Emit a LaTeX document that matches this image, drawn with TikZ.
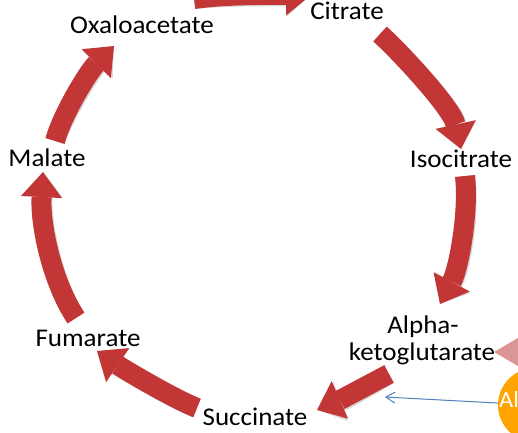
\documentclass[tikz,border=0pt]{standalone}
\usepackage{fontspec}
\setmainfont{Carlito}[FakeStretch=1.06]
\usetikzlibrary{arrows.meta}
\definecolor{arrowred}{RGB}{194,54,54}
\definecolor{shadowgray}{RGB}{215,215,215}
\definecolor{pinktri}{RGB}{217,150,148}
\definecolor{orangec}{RGB}{255,163,0}
\definecolor{bluel}{RGB}{79,129,189}
\tikzset{
  cyc/.style={line width=20pt, draw=arrowred, -{Triangle[length=25pt,width=41pt,line width=0pt]}},
  cycshadow/.style={line width=20pt, draw=shadowgray, -{Triangle[length=25pt,width=41pt,line width=0pt]}},
  lbl/.style={font=\fontsize{25.5}{27}\selectfont, inner sep=0pt, anchor=base, text=black},
}
\begin{document}
\begin{tikzpicture}[x=1pt,y=-1pt]
\useasboundingbox (0,0) rectangle (518,432);
\fill[white] (0,0) rectangle (518,432);
\clip (0,0) rectangle (518,432);

% labels
\node[lbl] (oxa) at (142,33) {Oxaloacetate};
\node[lbl] (cit) at (347,19) {Citrate};
\node[lbl] (iso) at (461,167) {Isocitrate};
\node[lbl] (alpha) at (423,333) {Alpha-};
\node[lbl] (keto) at (422,360) {ketoglutarate};
\node[lbl] (suc) at (255,425) {Succinate};
\node[lbl] (fum) at (88,346) {Fumarate};
\node[lbl] (mal) at (47,166) {Malate};

% arrow end points
\coordinate (a1s) at (194,-1);  \coordinate (a1e) at (311,-5);
\coordinate (a2s) at (380,34);  \coordinate (a2e) at (461,149);
\coordinate (a3s) at (465,176); \coordinate (a3e) at (440,304);
\coordinate (a4s) at (389,374); \coordinate (a4e) at (317,410);
\coordinate (a5s) at (197,408); \coordinate (a5e) at (97,351);
\coordinate (a6s) at (76,318);  \coordinate (a6e) at (43,172);
\coordinate (a7s) at (55,141);  \coordinate (a7e) at (114,46);

% shadows
\begin{scope}[shift={(1.5,1.5)}]
\draw[cycshadow] (a1s) .. controls (230,-6) and (275,-5) .. (a1e);
\draw[cycshadow] (a2s) .. controls (400,52) and (452,108) .. (a2e);
\draw[cycshadow] (a3s) .. controls (469,212) and (459,268) .. (a3e);
\draw[cycshadow] (a4s) .. controls (370,384) and (342,399) .. (a4e);
\draw[cycshadow] (a5s) .. controls (172,398) and (122,368) .. (a5e);
\draw[cycshadow] (a6s) .. controls (52,282) and (40,225) .. (a6e);
\draw[cycshadow] (a7s) .. controls (62,115) and (88,72) .. (a7e);
\end{scope}

% cycle arrows
\draw[cyc] (a1s) .. controls (230,-6) and (275,-5) .. (a1e);
\draw[cyc] (a2s) .. controls (400,52) and (452,108) .. (a2e);
\draw[cyc] (a3s) .. controls (469,212) and (459,268) .. (a3e);
\draw[cyc] (a4s) .. controls (370,384) and (342,399) .. (a4e);
\draw[cyc] (a5s) .. controls (172,398) and (122,368) .. (a5e);
\draw[cyc] (a6s) .. controls (52,282) and (40,225) .. (a6e);
\draw[cyc] (a7s) .. controls (62,115) and (88,72) .. (a7e);

% right-hand elements
\fill[pinktri] (494,352) -- (540,325) -- (540,379) -- cycle;
\node[circle, fill=orangec, minimum size=74pt, inner sep=0pt] (al) at (535,405) {};
\node[font=\fontsize{23}{25}\selectfont, text=white, inner sep=0pt, anchor=base west] (altext) at (499,407) {Al};
\coordinate (bluetip) at (385,397);
\draw[bluel, line width=1pt, -{Straight Barb[length=9pt,width=11pt]}] (al) -- (bluetip);
\end{tikzpicture}
\end{document}
